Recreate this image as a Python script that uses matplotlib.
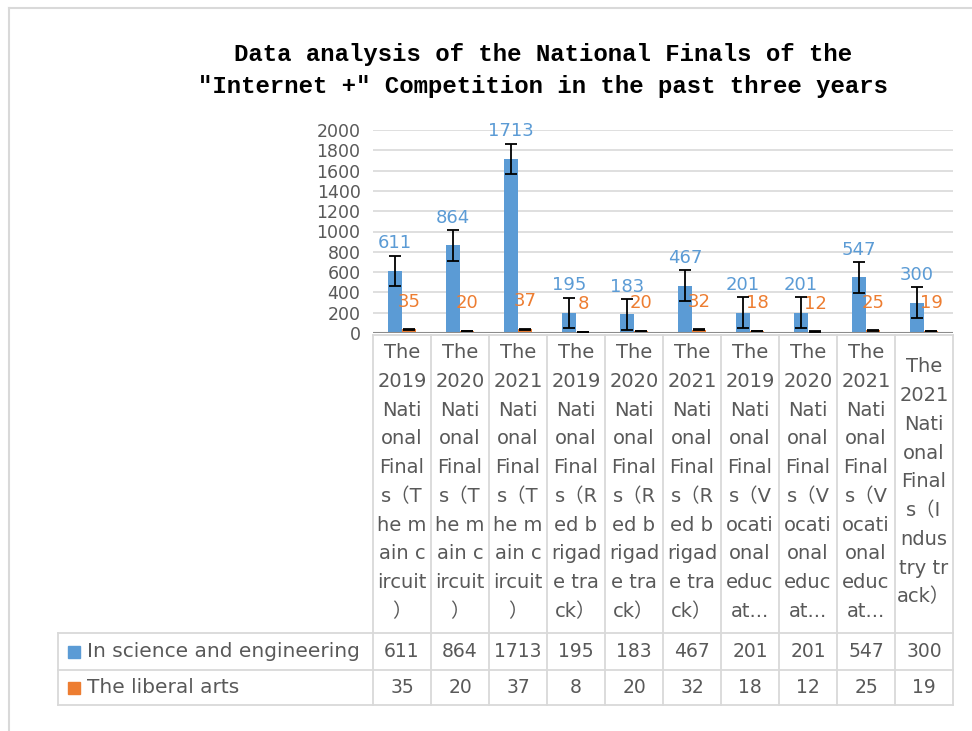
import numpy as np
import matplotlib.pyplot as plt
from matplotlib.lines import Line2D

plt.rcParams['font.family'] = ['DejaVu Sans', 'Noto Sans CJK SC']

# category labels, wrapped the way the original data table wraps them
categories = [
    "The\n2019\nNati\nonal\nFinal\ns（T\nhe m\nain c\nircuit\n）",
    "The\n2020\nNati\nonal\nFinal\ns（T\nhe m\nain c\nircuit\n）",
    "The\n2021\nNati\nonal\nFinal\ns（T\nhe m\nain c\nircuit\n）",
    "The\n2019\nNati\nonal\nFinal\ns（R\ned b\nrigad\ne tra\nck）",
    "The\n2020\nNati\nonal\nFinal\ns（R\ned b\nrigad\ne tra\nck）",
    "The\n2021\nNati\nonal\nFinal\ns（R\ned b\nrigad\ne tra\nck）",
    "The\n2019\nNati\nonal\nFinal\ns（V\nocati\nonal\neduc\nat...",
    "The\n2020\nNati\nonal\nFinal\ns（V\nocati\nonal\neduc\nat...",
    "The\n2021\nNati\nonal\nFinal\ns（V\nocati\nonal\neduc\nat...",
    "The\n2021\nNati\nonal\nFinal\ns（I\nndus\ntry tr\nack）",
]
science = [611, 864, 1713, 195, 183, 467, 201, 201, 547, 300]
liberal = [35, 20, 37, 8, 20, 32, 18, 12, 25, 19]
series_names = ["In science and engineering", "The liberal arts"]
yticks = list(range(0, 2001, 200))

title1 = "Data analysis of the National Finals of the"
title2 = '"Internet +" Competition in the past three years'

blue = "#5B9BD5"
orange = "#ED7D31"
txt = "#595959"
grid = "#d9d9d9"

W, H = 972, 731
fig = plt.figure(figsize=(W / 100, H / 100), dpi=100)

# outer chart border (only left/top visible in the original)
fig.add_artist(Line2D([8.5 / W, 8.5 / W], [0, 1 - 8 / H], color=grid, lw=1.5))
fig.add_artist(Line2D([8.5 / W, 1], [1 - 8 / H, 1 - 8 / H], color=grid, lw=1.5))

ax = fig.add_axes([373 / W, 1 - 333 / H, 580 / W, 203 / H])

x = np.arange(len(science))
bw = 0.24

# standard error bars, as Excel computes them for each series
se_sci = np.std(science, ddof=1) / np.sqrt(len(science))
se_lib = np.std(liberal, ddof=1) / np.sqrt(len(liberal))

ax.bar(x - bw / 2, science, bw, color=blue, zorder=3)
ax.bar(x + bw / 2, liberal, bw, color=orange, zorder=3)
ax.errorbar(x - bw / 2, science, yerr=se_sci, fmt='none', ecolor='black',
            elinewidth=1.3, capsize=4.5, capthick=1.3, zorder=4)
ax.errorbar(x + bw / 2, liberal, yerr=se_lib, fmt='none', ecolor='black',
            elinewidth=1.3, capsize=4.5, capthick=1.3, zorder=4)

for xi, v in zip(x, science):
    ax.annotate(str(v), (xi - bw / 2, v), xytext=(0, 20), textcoords='offset points',
                ha='center', va='center', color=blue, fontsize=13)
for xi, v in zip(x, liberal):
    ax.annotate(str(v), (xi + bw / 2, v), xytext=(0, 20), textcoords='offset points',
                ha='center', va='center', color=orange, fontsize=13)

ax.set_xlim(-0.5, len(science) - 0.5)
ax.set_ylim(0, 2000)
ax.set_yticks(yticks)
ax.set_yticklabels([str(t) for t in yticks], color=txt, fontsize=12.5)
ax.tick_params(axis='y', length=0, pad=9)
ax.set_xticks([])
ax.grid(axis='y', color=grid, lw=1.2, zorder=0)
ax.set_axisbelow(True)
for s in ax.spines.values():
    s.set_visible(False)
ax.axhline(0, color='#8c8c8c', lw=1.5, zorder=3)

# data table below the plot
tr = ax.get_xaxis_transform()
ytop = (333 - 335) / 203
y1 = (333 - 633) / 203
y2 = (333 - 670) / 203
y3 = (333 - 705) / 203
xleft = -0.5 + (58 - 373) / 58
xr = len(science) - 0.5

def tline(xs, ys):
    ax.plot(xs, ys, color=grid, lw=1.3, transform=tr, clip_on=False)

tline([-0.5, xr], [ytop, ytop])
for yy in (y1, y2, y3):
    tline([xleft, xr], [yy, yy])
for i in range(len(science) + 1):
    tline([i - 0.5, i - 0.5], [ytop, y3])
tline([xleft, xleft], [y1, y3])

for xi, lab in zip(x, categories):
    ax.text(xi, (ytop + y1) / 2 + 0.01, lab, transform=tr, ha='center', va='center',
            multialignment='center', color=txt, fontsize=14, linespacing=1.65)

rows = [(science, blue, series_names[0], (y1 + y2) / 2),
        (liberal, orange, series_names[1], (y2 + y3) / 2)]
for vals, col, name, yc in rows:
    ax.plot([-0.5 + (74 - 373) / 58], [yc], marker='s', ms=8.5, color=col,
            transform=tr, clip_on=False)
    ax.text(-0.5 + (87 - 373) / 58, yc, name, transform=tr, ha='left', va='center',
            color=txt, fontsize=14.5)
    for xi, v in zip(x, vals):
        ax.text(xi, yc, str(v), transform=tr, ha='center', va='center',
                color=txt, fontsize=13.5)

fig.text(543 / W, 1 - 54 / H, title1, ha='center', va='center',
         family='Liberation Mono', weight='bold', fontsize=17.3, color='black')
fig.text(543 / W, 1 - 87 / H, title2, ha='center', va='center',
         family='Liberation Mono', weight='bold', fontsize=17.3, color='black')

fig.savefig("out.png", dpi=100)
